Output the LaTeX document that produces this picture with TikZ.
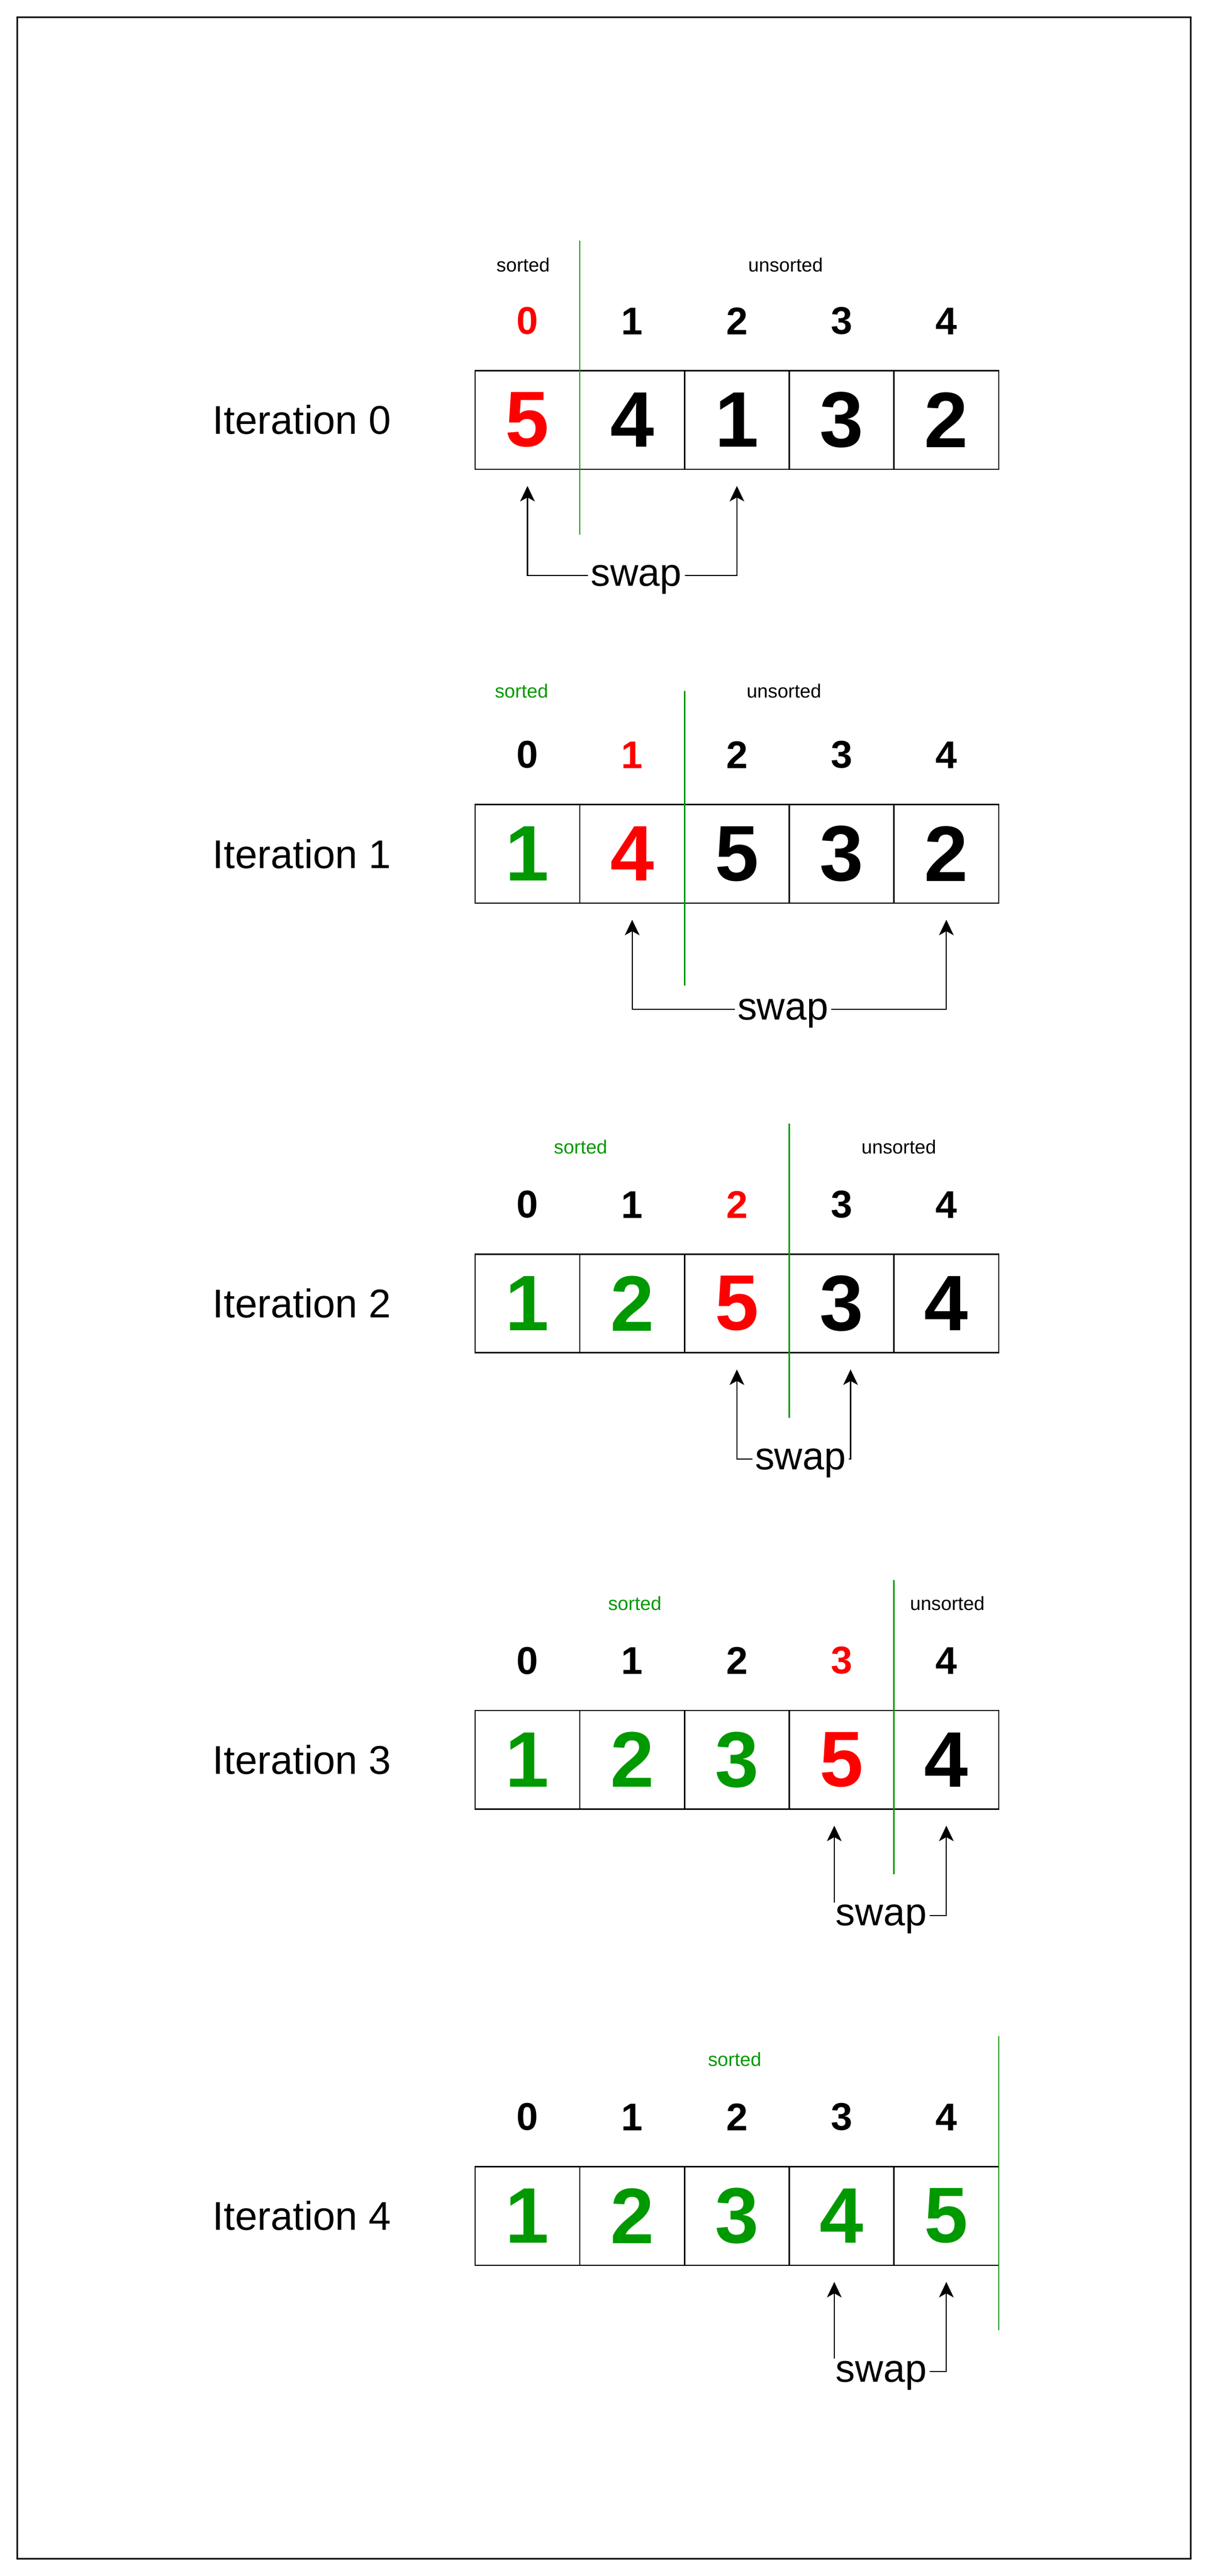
\documentclass[tikz,border=0pt]{standalone}
\usepackage{fontspec}
\setmainfont{Liberation Sans}
\usetikzlibrary{arrows.meta,positioning}

\definecolor{sortgreen}{HTML}{009900}
\definecolor{pickred}{HTML}{FF0000}

\tikzset{
  cell/.style = {draw, line width=0.9pt, outer sep=0pt, inner sep=0pt,
                 minimum width=2.57cm, minimum height=2.42cm,
                 font=\fontsize{55}{60}\selectfont\bfseries},
  idx/.style = {inner sep=0pt, font=\fontsize{27}{30}\selectfont\bfseries},
  partlabel/.style = {inner sep=0pt, font=\fontsize{13.4}{15}\selectfont},
  iterlabel/.style = {inner sep=0pt, font=\fontsize{28}{30}\selectfont},
  swaplabel/.style = {fill=white, inner xsep=0.07cm, inner ysep=0.06cm,
                 text depth=0pt, font=\fontsize{27.2}{30}\selectfont},
  divider/.style = {sortgreen, line width=0.9pt},
  swaparrow/.style = {<->, line width=0.8pt},
}

\begin{document}
\begin{tikzpicture}[>={Stealth[length=0.38cm, width=0.36cm, inset=0.1cm]}]
\useasboundingbox (0,0) rectangle (29.64,-63.24);
\draw [line width=0.04cm] (0.42,-0.42) rectangle (29.22,-62.82);

% iteration 0
\node [iterlabel] (it0) at (7.41,-10.31) {Iteration 0};
\foreach \v/\c/\n [count=\i from 0] in {5/pickred/pickred, 4/black/black, 1/black/black, 3/black/black, 2/black/black} {
  \node [cell, text=\c] (c0\i) at ({12.945+2.57*\i},-10.31) {\v};
  \node [idx, text=\n, above=0.88cm of c0\i] (n0\i) {\i};
}
\node [partlabel] (s0) at (12.84,-6.50) {sorted};
\node [partlabel] (u0) at (19.28,-6.50) {unsorted};
\draw [divider] ([yshift=3.19cm]c00.north east) -- ([yshift=-1.61cm]c00.south east);
\draw [swaparrow] ([yshift=-0.41cm]c00.south) -- ++(0,-2.2)
  -| node [pos=0.26, swaplabel] (w0) {swap} ([yshift=-0.41cm]c02.south);

% iteration 1
\node [iterlabel] (it1) at (7.41,-20.96) {Iteration 1};
\foreach \v/\c/\n [count=\i from 0] in {1/sortgreen/black, 4/pickred/pickred, 5/black/black, 3/black/black, 2/black/black} {
  \node [cell, text=\c] (c1\i) at ({12.945+2.57*\i},-20.96) {\v};
  \node [idx, text=\n, above=0.88cm of c1\i] (n1\i) {\i};
}
\node [partlabel, text=sortgreen] (s1) at (12.80,-16.96) {sorted};
\node [partlabel] (u1) at (19.24,-16.96) {unsorted};
\draw [divider] ([yshift=2.79cm]c11.north east) -- ([yshift=-2.02cm]c11.south east);
\draw [swaparrow] ([yshift=-0.41cm]c11.south) -- ++(0,-2.2)
  -| node [pos=0.24, swaplabel] (w1) {swap} ([yshift=-0.41cm]c14.south);

% iteration 2
\node [iterlabel] (it2) at (7.41,-32.00) {Iteration 2};
\foreach \v/\c/\n [count=\i from 0] in {1/sortgreen/black, 2/sortgreen/black, 5/pickred/pickred, 3/black/black, 4/black/black} {
  \node [cell, text=\c] (c2\i) at ({12.945+2.57*\i},-32.00) {\v};
  \node [idx, text=\n, above=0.88cm of c2\i] (n2\i) {\i};
}
\node [partlabel, text=sortgreen] (s2) at (14.25,-28.16) {sorted};
\node [partlabel] (u2) at (22.06,-28.16) {unsorted};
\draw [divider] ([yshift=3.20cm]c22.north east) -- ([yshift=-1.60cm]c22.south east);
\draw [swaparrow] ([yshift=-0.41cm]c22.south) -- ++(0,-2.2)
  -| node [pos=0.28, swaplabel] (w2) {swap} ([xshift=0.22cm,yshift=-0.41cm]c23.south);

% iteration 3
\node [iterlabel] (it3) at (7.41,-43.20) {Iteration 3};
\foreach \v/\c/\n [count=\i from 0] in {1/sortgreen/black, 2/sortgreen/black, 3/sortgreen/black, 5/pickred/pickred, 4/black/black} {
  \node [cell, text=\c] (c3\i) at ({12.945+2.57*\i},-43.20) {\v};
  \node [idx, text=\n, above=0.88cm of c3\i] (n3\i) {\i};
}
\node [partlabel, text=sortgreen] (s3) at (15.58,-39.36) {sorted};
\node [partlabel] (u3) at (23.25,-39.36) {unsorted};
\draw [divider] ([yshift=3.20cm]c33.north east) -- ([yshift=-1.60cm]c33.south east);
\draw [swaparrow] ([xshift=-0.18cm,yshift=-0.41cm]c33.south) -- ++(0,-2.2)
  -| node [pos=0.21, swaplabel] (w3) {swap} ([yshift=-0.41cm]c34.south);

% iteration 4
\node [iterlabel] (it4) at (7.41,-54.40) {Iteration 4};
\foreach \v/\c/\n [count=\i from 0] in {1/sortgreen/black, 2/sortgreen/black, 3/sortgreen/black, 4/sortgreen/black, 5/sortgreen/black} {
  \node [cell, text=\c] (c4\i) at ({12.945+2.57*\i},-54.40) {\v};
  \node [idx, text=\n, above=0.88cm of c4\i] (n4\i) {\i};
}
\node [partlabel, text=sortgreen] (s4) at (18.03,-50.56) {sorted};
\draw [divider] ([yshift=3.20cm]c44.north east) -- ([yshift=-1.60cm]c44.south east);
\draw [swaparrow] ([xshift=-0.18cm,yshift=-0.41cm]c43.south) -- ++(0,-2.2)
  -| node [pos=0.21, swaplabel] (w4) {swap} ([yshift=-0.41cm]c44.south);
\end{tikzpicture}
\end{document}
